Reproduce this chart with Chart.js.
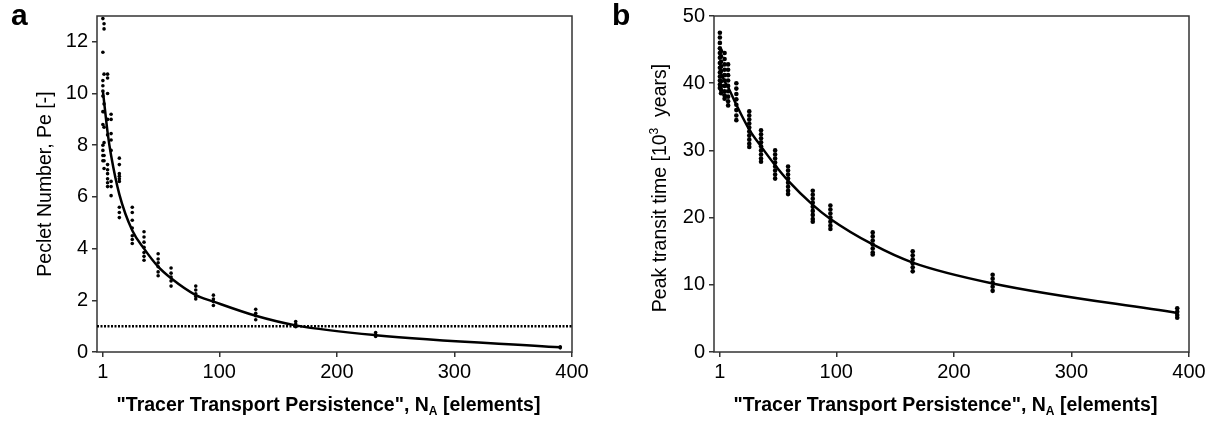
<!DOCTYPE html>
<html>
<head>
<meta charset="utf-8">
<script src="https://cdn.jsdelivr.net/npm/chart.js@4.4.1/dist/chart.umd.min.js"></script>
<style>
  html, body { margin: 0; padding: 0; background: #fff; }
  #wrap { position: relative; width: 1221px; height: 424px; }
  #panelA { position: absolute; left: 0; top: 0; }
  #panelB { position: absolute; left: 610px; top: 0; }
</style>
</head>
<body>
<div id="wrap">
  <canvas id="panelA" width="610" height="424"></canvas>
  <canvas id="panelB" width="611" height="424"></canvas>
</div>
<script>
// "Tracer Transport Persistence" values (one column of replicates each)
var xValues = [1, 2, 5, 8, 15, 26, 36, 48, 59, 80, 95, 131, 165, 233, 390];
var xTicks = [1, 100, 200, 300, 400];

// panel a: Peclet number
var peMean = [10.1, 9.7, 8.5, 7.6, 6.1, 4.7, 4.0, 3.3, 2.85, 2.2, 1.95, 1.4, 1.03, 0.65, 0.18];
var peSamples = [
  [12.9, 11.6, 10.5, 10.3, 10.1, 9.9, 9.3, 8.8, 8.0, 7.8, 7.6, 7.4],
  [12.7, 12.5, 10.75, 9.6, 9.3, 8.7, 8.1, 7.6, 7.4, 7.1],
  [10.75, 10.6, 10.0, 9.0, 8.4, 7.25, 7.05, 6.9, 6.7, 6.55, 6.4],
  [9.2, 9.0, 8.45, 8.2, 7.8, 6.6, 6.4, 6.05],
  [7.5, 7.25, 6.9, 6.8, 6.7, 6.6, 5.6, 5.4, 5.2],
  [5.6, 5.4, 5.1, 4.8, 4.5, 4.35, 4.2],
  [4.65, 4.45, 4.25, 4.05, 3.85, 3.7, 3.55],
  [3.8, 3.6, 3.45, 3.3, 3.1, 2.95],
  [3.25, 3.05, 2.9, 2.75, 2.55],
  [2.55, 2.4, 2.25, 2.15, 2.05],
  [2.2, 2.05, 1.95, 1.8],
  [1.65, 1.5, 1.4, 1.25],
  [1.18, 1.08, 0.98],
  [0.75, 0.67, 0.6],
  [0.2, 0.16]
];
var peCritical = 1;

// panel b: peak transit time [10^3 years]
var ptMean = [42.0, 41.5, 40.3, 39.4, 36.8, 33.1, 30.6, 27.8, 25.5, 21.9, 19.8, 16.0, 13.3, 10.2, 5.8];
var ptSamples = [
  [47.5, 46.8, 46.0, 45.2, 44.5, 43.8, 43.0, 42.3, 41.6, 41.0, 40.4, 39.8, 39.3],
  [44.8, 44.0, 43.2, 42.5, 41.8, 41.0, 40.3, 39.6, 39.0, 38.5],
  [44.5, 43.6, 42.8, 42.0, 41.2, 40.4, 39.6, 38.8, 38.2, 37.7],
  [42.8, 42.0, 41.2, 40.4, 39.6, 38.8, 38.0, 37.3, 36.7],
  [40.0, 39.2, 38.4, 37.6, 36.8, 36.0, 35.2, 34.5],
  [35.8, 35.2, 34.6, 34.0, 33.4, 32.8, 32.2, 31.6, 31.0, 30.5],
  [33.0, 32.4, 31.8, 31.2, 30.6, 30.0, 29.4, 28.8, 28.3],
  [30.0, 29.4, 28.8, 28.2, 27.6, 27.0, 26.4, 25.8],
  [27.6, 27.0, 26.4, 25.8, 25.2, 24.6, 24.0, 23.5],
  [24.0, 23.4, 22.8, 22.2, 21.6, 21.0, 20.4, 19.8, 19.4],
  [21.8, 21.2, 20.6, 20.0, 19.4, 18.8, 18.3],
  [17.8, 17.2, 16.6, 16.0, 15.4, 14.8, 14.5],
  [15.0, 14.4, 13.8, 13.2, 12.6, 12.0],
  [11.5, 10.9, 10.3, 9.7, 9.1],
  [6.5, 6.0, 5.5, 5.1]
];

var FONT = '"Liberation Sans", Arial, Helvetica, sans-serif';

function scatterPoints(samples) {
  var pts = [];
  samples.forEach(function(col, i) {
    col.forEach(function(v) { pts.push({x: xValues[i], y: v}); });
  });
  return pts;
}
function meanPoints(means) {
  return means.map(function(v, i) { return {x: xValues[i], y: v}; });
}

// frame, panel letter and axis titles (N_A subscript, 10^3 superscript)
var decorations = {
  id: 'decorations',
  beforeDatasetsDraw: function(chart) {
    var ctx = chart.ctx, a = chart.chartArea;
    ctx.save();
    ctx.strokeStyle = '#333';
    ctx.lineWidth = 1.5;
    ctx.strokeRect(a.left, a.top, a.right - a.left, a.bottom - a.top);
    ctx.restore();
  },
  afterDraw: function(chart, args, opts) {
    var ctx = chart.ctx, a = chart.chartArea;
    ctx.save();
    ctx.fillStyle = '#000';
    ctx.textBaseline = 'alphabetic';
    ctx.textAlign = 'left';

    ctx.font = 'bold 30px ' + FONT;
    ctx.fillText(opts.letter, opts.letterX, 25);

    // x title
    var big = 'bold 19.5px ' + FONT, small = 'bold 12px ' + FONT;
    var p1 = '"Tracer Transport Persistence", N', p2 = 'A', p3 = ' [elements]';
    ctx.font = big; var w1 = ctx.measureText(p1).width, w3 = ctx.measureText(p3).width;
    ctx.font = small; var w2 = ctx.measureText(p2).width;
    var x0 = (a.left + a.right) / 2 - 6 - (w1 + w2 + w3) / 2, yb = 411;
    ctx.font = big; ctx.fillText(p1, x0, yb);
    ctx.font = small; ctx.fillText(p2, x0 + w1, yb + 4);
    ctx.font = big; ctx.fillText(p3, x0 + w1 + w2, yb);

    // y title (rotated)
    ctx.translate(opts.yTitleX, (a.top + a.bottom) / 2 + opts.yTitleShift);
    ctx.rotate(-Math.PI / 2);
    var parts = opts.yTitle, fonts = [], widths = [], total = 0;
    parts.forEach(function(p) {
      var f = (p.sup ? '12px ' : '19.5px ') + FONT;
      ctx.font = f; var w = ctx.measureText(p.text).width;
      fonts.push(f); widths.push(w); total += w;
    });
    var cx = -total / 2;
    parts.forEach(function(p, i) {
      ctx.font = fonts[i];
      ctx.fillText(p.text, cx, p.sup ? -8 : 0);
      cx += widths[i];
    });
    ctx.restore();
  }
};

function makeChart(id, cfg) {
  return new Chart(document.getElementById(id), {
    type: 'scatter',
    data: { datasets: cfg.datasets },
    options: {
      responsive: false,
      animation: false,
      layout: { padding: { left: 0, right: cfg.padRight, top: 12, bottom: 0 } },
      plugins: {
        legend: { display: false },
        tooltip: { enabled: false },
        decorations: cfg.deco
      },
      scales: {
        x: {
          type: 'linear',
          min: -4,
          max: 400,
          afterBuildTicks: function(axis) {
            axis.ticks = xTicks.map(function(v) { return {value: v}; });
          },
          afterFit: function(scale) { scale.height = 72; },
          border: { display: false },
          grid: { drawOnChartArea: false, drawTicks: true, tickLength: 5, color: '#333', lineWidth: 1.5 },
          ticks: { color: '#000', font: { family: FONT, size: 20 }, padding: 3, maxRotation: 0 }
        },
        y: {
          min: 0,
          max: cfg.yMax,
          afterFit: function(scale) { scale.width = cfg.yWidth; },
          border: { display: false },
          grid: { drawOnChartArea: false, drawTicks: true, tickLength: 5, color: '#333', lineWidth: 1.5 },
          ticks: { stepSize: cfg.yStep, includeBounds: false, color: '#000', font: { family: FONT, size: 20 }, padding: 4 }
        }
      }
    },
    plugins: [decorations]
  });
}

makeChart('panelA', {
  padRight: 38, yWidth: 97, yMax: 13, yStep: 2,
  deco: {
    letter: 'a', letterX: 11, yTitleX: 51, yTitleShift: 0,
    yTitle: [{text: 'Peclet Number, Pe [-]'}]
  },
  datasets: [
    {
      data: meanPoints(peMean), showLine: true, borderColor: '#000', borderWidth: 2.5,
      pointRadius: 0, cubicInterpolationMode: 'monotone', order: 1
    },
    {
      data: [{x: -4, y: peCritical}, {x: 400, y: peCritical}], showLine: true,
      borderColor: '#000', borderWidth: 2.5, borderDash: [2, 1.5], pointRadius: 0, order: 2
    },
    {
      data: scatterPoints(peSamples), backgroundColor: '#000', borderWidth: 0,
      pointRadius: 1.8, order: 3
    }
  ]
});

makeChart('panelB', {
  padRight: 32, yWidth: 104, yMax: 50, yStep: 10,
  deco: {
    letter: 'b', letterX: 2, yTitleX: 56, yTitleShift: 4,
    yTitle: [{text: 'Peak transit time [10'}, {text: '3', sup: true}, {text: '  years]'}]
  },
  datasets: [
    {
      data: meanPoints(ptMean), showLine: true, borderColor: '#000', borderWidth: 2.5,
      pointRadius: 0, cubicInterpolationMode: 'monotone', order: 1
    },
    {
      data: scatterPoints(ptSamples), backgroundColor: '#000', borderWidth: 0,
      pointRadius: 2.3, order: 3
    }
  ]
});
</script>
</body>
</html>
